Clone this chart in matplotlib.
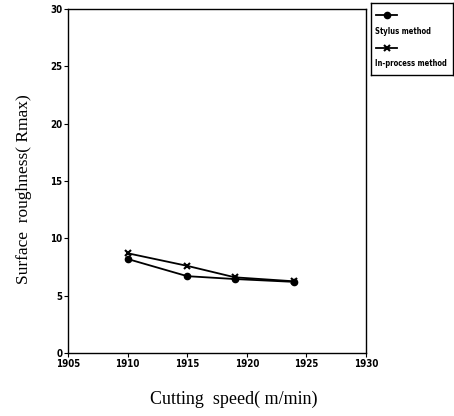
import matplotlib.pyplot as plt
from matplotlib.lines import Line2D

speed = [1910, 1915, 1919, 1924]
stylus = [8.2, 6.7, 6.45, 6.2]
in_process = [8.7, 7.6, 6.6, 6.25]

x_ticks = [1905, 1910, 1915, 1920, 1925, 1930]
y_ticks = [0, 5, 10, 15, 20, 25, 30]
series_names = ['Stylus method', 'In-process method']

tick_font = {'family': 'DejaVu Sans', 'weight': 'bold', 'size': 7, 'stretch': 'condensed'}

fig = plt.figure(figsize=(4.54, 4.16), dpi=100)
ax = fig.add_axes([68 / 454, 1 - 353 / 416, (366 - 68) / 454, (353 - 9) / 416])

ax.plot(speed, stylus, color='black', lw=1.3, marker='o', ms=4.5,
        markerfacecolor='black', markeredgecolor='black')
ax.plot(speed, in_process, color='black', lw=1.3, marker='x', ms=4.5, mew=1.5)

ax.set_xlim(1905, 1930)
ax.set_ylim(0, 30)
ax.set_xticks(x_ticks)
ax.set_yticks(y_ticks)
ax.set_xticklabels([str(t) for t in x_ticks], fontdict=tick_font)
ax.set_yticklabels([str(t) for t in y_ticks], fontdict=tick_font)
ax.tick_params(direction='out', length=3, width=0.8, pad=1)
for s in ax.spines.values():
    s.set_linewidth(1.0)

ax.set_xlabel('Cutting  speed( m/min)', family='Liberation Serif', size=13)
ax.xaxis.set_label_coords(0.555, -0.11)
ax.set_ylabel('Surface  roughness( Rmax)', family='Liberation Serif', size=12.5)
ax.yaxis.set_label_coords(-0.12, 0.475)

# legend box to the right of the plot
lax = fig.add_axes([371 / 454, 1 - 75 / 416, 82 / 454, 72 / 416])
lax.set_xlim(0, 1)
lax.set_ylim(0, 1)
lax.set_xticks([])
lax.set_yticks([])
for s in lax.spines.values():
    s.set_linewidth(1.0)
markers = ['o', 'x']
rows = [0.83, 0.375]
for m, name, r in zip(markers, series_names, rows):
    lax.add_line(Line2D([0.06, 0.32], [r, r], color='black', lw=1.3))
    lax.add_line(Line2D([0.19], [r], color='black', marker=m, ms=4, mew=1.5))
    lax.text(0.05, r - 0.22, name, fontdict={'family': 'DejaVu Sans', 'weight': 'bold',
             'size': 5.5, 'stretch': 'condensed'}, va='center', ha='left')

fig.savefig('out.png', dpi=100)
